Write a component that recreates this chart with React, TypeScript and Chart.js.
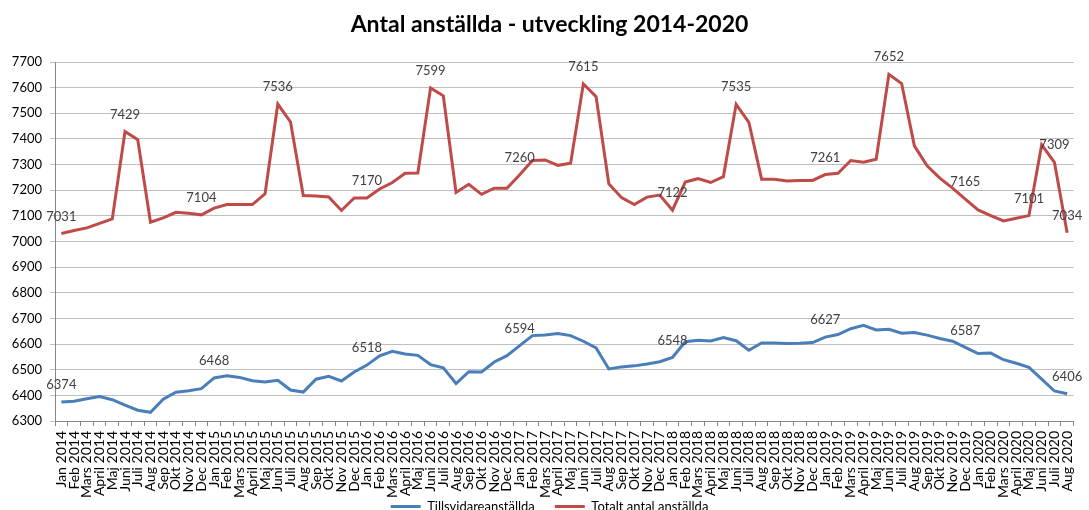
import React, { useEffect, useRef } from 'react';
import { Chart, registerables } from 'chart.js';

Chart.register(...registerables);

const CATEGORIES = [
  'Jan 2014', 'Feb 2014', 'Mars 2014', 'April 2014', 'Maj 2014', 'Juni 2014', 'Juli 2014', 'Aug 2014', 'Sep 2014', 'Okt 2014', 'Nov 2014', 'Dec 2014',
  'Jan 2015', 'Feb 2015', 'Mars 2015', 'April 2015', 'Maj 2015', 'Juni 2015', 'Juli 2015', 'Aug 2015', 'Sep 2015', 'Okt 2015', 'Nov 2015', 'Dec 2015',
  'Jan 2016', 'Feb 2016', 'Mars 2016', 'April 2016', 'Maj 2016', 'Juni 2016', 'Juli 2016', 'Aug 2016', 'Sep 2016', 'Okt 2016', 'Nov 2016', 'Dec 2016',
  'Jan 2017', 'Feb 2017', 'Mars 2017', 'April 2017', 'Maj 2017', 'Juni 2017', 'Juli 2017', 'Aug 2017', 'Sep 2017', 'Okt 2017', 'Nov 2017', 'Dec 2017',
  'Jan 2018', 'Feb 2018', 'Mars 2018', 'April 2018', 'Maj 2018', 'Juni 2018', 'Juli 2018', 'Aug 2018', 'Sep 2018', 'Okt 2018', 'Nov 2018', 'Dec 2018',
  'Jan 2019', 'Feb 2019', 'Mars 2019', 'April 2019', 'Maj 2019', 'Juni 2019', 'Juli 2019', 'Aug 2019', 'Sep 2019', 'Okt 2019', 'Nov 2019', 'Dec 2019',
  'Jan 2020', 'Feb 2020', 'Mars 2020', 'April 2020', 'Maj 2020', 'Juni 2020', 'Juli 2020', 'Aug 2020',
];

const TILLSVIDARE = [
  6374, 6377, 6387, 6395, 6383, 6362, 6342, 6334, 6385, 6412, 6418, 6426,
  6468, 6476, 6470, 6457, 6452, 6459, 6421, 6413, 6463, 6474, 6456, 6491,
  6518, 6554, 6572, 6561, 6556, 6520, 6507, 6446, 6492, 6491, 6530, 6555,
  6594, 6633, 6635, 6641, 6633, 6611, 6585, 6503, 6511, 6515, 6522, 6531,
  6548, 6609, 6615, 6612, 6625, 6613, 6576, 6604, 6604, 6602, 6603, 6606,
  6627, 6637, 6660, 6673, 6655, 6658, 6642, 6645, 6635, 6622, 6611, 6587,
  6563, 6565, 6539, 6525, 6509, 6463, 6417, 6406,
];

const TOTALT = [
  7031, 7043, 7053, 7071, 7088, 7429, 7397, 7075, 7092, 7114, 7110, 7104,
  7130, 7144, 7144, 7144, 7186, 7536, 7466, 7179, 7177, 7174, 7121, 7170,
  7170, 7205, 7230, 7266, 7267, 7599, 7568, 7191, 7223, 7184, 7208, 7208,
  7260, 7316, 7318, 7297, 7305, 7615, 7565, 7225, 7171, 7144, 7173, 7181,
  7122, 7232, 7245, 7230, 7253, 7535, 7465, 7243, 7243, 7236, 7238, 7238,
  7261, 7266, 7316, 7309, 7321, 7652, 7616, 7373, 7295, 7247, 7208, 7165,
  7123, 7101, 7080, 7091, 7101, 7377, 7309, 7034,
];

// indices of points that carry a value label
const LABELED_TILLSVIDARE = [0, 12, 24, 36, 48, 60, 71, 79];
const LABELED_TOTALT = [0, 5, 11, 17, 24, 29, 36, 41, 48, 53, 60, 65, 71, 76, 78, 79];

const Y_MIN = 6300;
const Y_MAX = 7700;
const Y_STEP = 100;

const FONT = "Lato, 'Noto Sans', sans-serif";

// let axis tick labels overflow their scale boxes (no clipping)
const noLabelClipPlugin = {
  id: 'noLabelClip',
  beforeDraw(chart: any) {
    Object.values(chart.scales).forEach((s: any) => {
      s._computeLabelArea = () => undefined;
    });
  },
};

const valueLabelPlugin = {
  id: 'valueLabels',
  afterDatasetsDraw(chart: any) {
    const ctx = chart.ctx;
    chart.data.datasets.forEach((ds: any, di: number) => {
      const meta = chart.getDatasetMeta(di);
      const idxs: number[] = ds.labelIndices || [];
      ctx.save();
      ctx.font = `13px ${FONT}`;
      ctx.fillStyle = '#404040';
      ctx.textAlign = 'center';
      ctx.textBaseline = 'middle';
      idxs.forEach((i) => {
        const pt = meta.data[i];
        if (!pt) return;
        ctx.fillText(String(ds.data[i]), pt.x, pt.y - 17);
      });
      ctx.restore();
    });
  },
};

export default function App() {
  const ref = useRef<HTMLCanvasElement | null>(null);

  useEffect(() => {
    document.body.style.margin = '0';
    document.body.style.overflow = 'hidden';
    if (!ref.current) return;
    const chart = new Chart(ref.current, {
      type: 'line',
      data: {
        labels: CATEGORIES,
        datasets: [
          {
            label: 'Tillsvidareanställda',
            data: TILLSVIDARE,
            borderColor: '#4A7EBB',
            backgroundColor: '#4A7EBB',
            borderWidth: 3,
            pointRadius: 0,
            tension: 0,
            labelIndices: LABELED_TILLSVIDARE,
          } as any,
          {
            label: 'Totalt antal anställda',
            data: TOTALT,
            borderColor: '#BE4B48',
            backgroundColor: '#BE4B48',
            borderWidth: 3,
            pointRadius: 0,
            tension: 0,
            labelIndices: LABELED_TOTALT,
          } as any,
        ],
      },
      options: {
        responsive: false,
        animation: false,
        layout: { padding: { left: 18, right: 8, top: 0, bottom: 0 } },
        plugins: {
          title: {
            display: true,
            text: 'Antal anställda - utveckling 2014-2020',
            color: '#000',
            font: { family: FONT, size: 23, weight: 'bold' },
            padding: { top: 11, bottom: 23.4 },
          },
          legend: {
            position: 'bottom',
            labels: {
              boxWidth: 30,
              boxHeight: 3,
              padding: 20,
              color: '#000',
              font: { family: FONT, size: 13 },
              generateLabels: (c: any) =>
                Chart.defaults.plugins.legend.labels.generateLabels(c).map((l: any) => ({
                  ...l,
                  fillStyle: l.strokeStyle,
                  strokeStyle: 'rgba(0,0,0,0)',
                  lineWidth: 0,
                })),
            },
          },
          tooltip: { enabled: false },
        },
        scales: {
          x: {
            type: 'category',
            offset: true,
            grid: {
              display: true,
              drawOnChartArea: false,
              drawTicks: true,
              tickLength: 5,
              offset: true,
              color: '#868686',
            },
            border: { color: '#868686' },
            ticks: {
              autoSkip: false,
              maxRotation: 90,
              minRotation: 90,
              padding: 5,
              color: '#000',
              font: { family: FONT, size: 14 },
            },
            afterFit: (s: any) => {
              s.height = 59;
            },
          },
          y: {
            min: Y_MIN,
            max: Y_MAX,
            ticks: {
              stepSize: Y_STEP,
              padding: 8,
              color: '#000',
              font: { family: FONT, size: 13 },
              callback: (v: any) => String(v),
            },
            grid: { color: '#bfbfbf', tickLength: 5 },
            border: { color: '#868686' },
            afterFit: (s: any) => {
              s.width = 37;
            },
          },
        },
      },
      plugins: [noLabelClipPlugin, valueLabelPlugin],
    });
    return () => chart.destroy();
  }, []);

  return (
    <div style={{ position: 'fixed', left: 0, top: 0, width: 1089, height: 510, overflow: 'hidden', background: '#fff' }}>
      <canvas ref={ref} width={1089} height={523} style={{ display: 'block' }} />
    </div>
  );
}
